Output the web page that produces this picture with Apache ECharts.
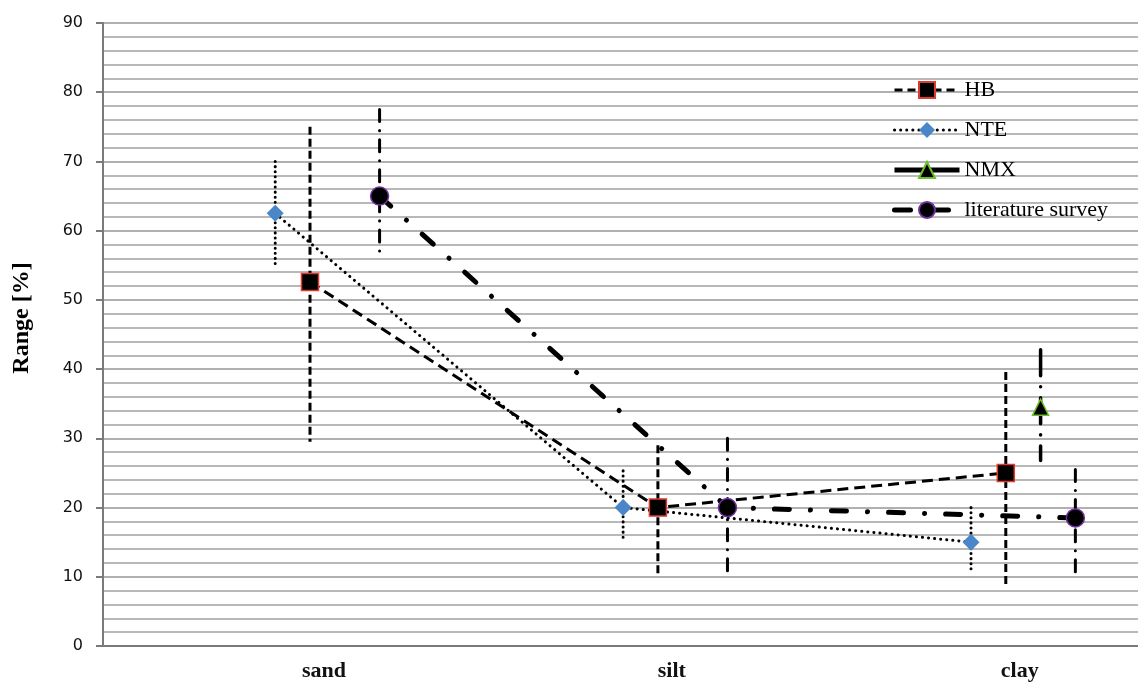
<!DOCTYPE html>
<html>
<head>
<meta charset="utf-8">
<script src="https://cdn.jsdelivr.net/npm/echarts@6/dist/echarts.min.js"></script>
<style>
html,body{margin:0;padding:0;background:#fff;}
#chart{width:1138px;height:686px;}
</style>
</head>
<body>
<div id="chart"></div>
<script>
// ---- data ----
const categories = ['sand', 'silt', 'clay'];
const seriesNames = ['HB', 'NTE', 'NMX', 'literature survey'];
const hbMean  = [52.6, 20, 25];
const hbLow   = [29.5, 10, 8.5];
const hbHigh  = [75, 29, 39.6];
const nteMean = [62.5, 20, 15];
const nteLow  = [55, 15.5, 10.5];
const nteHigh = [70, 25.3, 20];
const nmxMean = [null, null, 34.5];
const nmxLow  = [null, null, 26.8];
const nmxHigh = [null, null, 42.8];
const litMean = [65, 20, 18.5];
const litLow  = [56, 10.7, 9.8];
const litHigh = [77.5, 30, 25.5];
const yMin = 0, yMax = 90, yInterval = 10;

// ---- layout (horizontal offsets of each series within a category) ----
const offHB = 0, offNTE = -0.1, offNMX = 0.1, offLit = 0.2, offLabel = 0.04;

function pts(mean, off) {
  const out = [];
  mean.forEach((v, i) => { if (v !== null) out.push([i + 1 + off, v]); });
  return out;
}
function bars(mean, low, high, off) {
  const out = [];
  mean.forEach((v, i) => { if (v !== null) out.push([i + 1 + off, low[i], high[i]]); });
  return out;
}
function errSeries(name, data, style) {
  return {
    type: 'custom',
    name: name,
    z: 1,
    silent: true,
    data: data,
    encode: { x: 0, y: [1, 2] },
    renderItem: function (params, api) {
      const x = api.value(0);
      const pHigh = api.coord([x, api.value(2)]);
      const pLow = api.coord([x, api.value(1)]);
      return {
        type: 'line',
        shape: { x1: pHigh[0], y1: pHigh[1], x2: pLow[0], y2: pLow[1] },
        style: Object.assign({ stroke: '#000', fill: null }, style)
      };
    }
  };
}

const styleHB  = { color: '#000', width: 3, type: [11, 6] };
const styleNTE = { color: '#000', width: 3, type: [0.1, 6], cap: 'round' };
const styleNMX = { color: '#000', width: 5 };
const styleLit = { color: '#000', width: 5, type: [15, 21, 0.1, 21], cap: 'round' };

const chart = echarts.init(document.getElementById('chart'), null, { renderer: 'canvas' });
const option = {
  backgroundColor: '#fff',
  animation: false,
  grid: { left: 103, top: 23, right: 0, bottom: 40, containLabel: false },
  legend: {
    data: [
      { name: seriesNames[0], lineStyle: { width: 3, type: [8, 5] } },
      { name: seriesNames[1], lineStyle: { width: 3, type: [0.1, 6], cap: 'round' } },
      { name: seriesNames[2], lineStyle: { width: 5 } },
      { name: seriesNames[3], lineStyle: { width: 5, type: [16, 22], cap: 'round' } }
    ],
    orient: 'vertical',
    left: 892,
    top: 79,
    padding: 0,
    itemWidth: 65,
    itemHeight: 20,
    itemGap: 18,
    textStyle: { fontFamily: 'Liberation Serif', fontSize: 22, color: '#000' }
  },
  xAxis: {
    type: 'value',
    min: 0.405,
    max: 3.38,
    splitLine: { show: false },
    axisTick: { show: false },
    axisLine: { show: true, lineStyle: { color: '#7a7a7a', width: 2 } },
    axisLabel: {
      customValues: categories.map((c, i) => i + 1 + offLabel),
      formatter: function (v) { return categories[Math.round(v - offLabel) - 1] || ''; },
      fontFamily: 'Liberation Serif',
      fontSize: 22,
      fontWeight: 'bold',
      color: '#111',
      margin: 14
    }
  },
  yAxis: {
    type: 'value',
    min: yMin,
    max: yMax,
    interval: yInterval,
    axisLine: { show: true, lineStyle: { color: '#7a7a7a', width: 2 } },
    axisTick: { show: true, length: 7, lineStyle: { color: '#7a7a7a', width: 2 } },
    minorTick: { show: false, splitNumber: 5 },
    splitLine: { show: true, lineStyle: { color: '#b0b0b0', width: 2 } },
    minorSplitLine: { show: true, lineStyle: { color: '#b8b8b8', width: 2 } },
    axisLabel: { fontFamily: 'DejaVu Sans', fontSize: 16, color: '#111', margin: 20 }
  },
  graphic: [{
    type: 'text',
    x: 22, y: 318,
    rotation: Math.PI / 2,
    style: {
      text: 'Range [%]',
      font: 'bold 24px "Liberation Serif"',
      fill: '#000',
      align: 'center',
      verticalAlign: 'middle'
    }
  }],
  series: [
    {
      name: seriesNames[0], type: 'line', z: 3,
      data: pts(hbMean, offHB),
      symbol: 'rect', symbolSize: 17,
      itemStyle: { color: '#000', borderColor: '#e03a2e', borderWidth: 1.5 },
      lineStyle: styleHB
    },
    {
      name: seriesNames[1], type: 'line', z: 3,
      data: pts(nteMean, offNTE),
      symbol: 'diamond', symbolSize: 17,
      itemStyle: { color: '#4a86c8', borderWidth: 0 },
      lineStyle: styleNTE
    },
    {
      name: seriesNames[2], type: 'line', z: 3,
      data: pts(nmxMean, offNMX),
      symbol: 'triangle', symbolSize: 16,
      itemStyle: { color: '#000', borderColor: '#6bbf2a', borderWidth: 1.5 },
      lineStyle: styleNMX
    },
    {
      name: seriesNames[3], type: 'line', z: 3,
      data: pts(litMean, offLit),
      symbol: 'circle', symbolSize: 18,
      itemStyle: { color: '#000', borderColor: '#7030a0', borderWidth: 1.5 },
      lineStyle: styleLit
    },
    errSeries('HB err', bars(hbMean, hbLow, hbHigh, offHB), { lineWidth: 3, lineDash: [8, 4] }),
    errSeries('NTE err', bars(nteMean, nteLow, nteHigh, offNTE), { lineWidth: 3, lineDash: [0.1, 5], lineCap: 'round' }),
    errSeries('NMX err', bars(nmxMean, nmxLow, nmxHigh, offNMX), { lineWidth: 3.5, lineDash: [26, 11, 0.1, 11], lineCap: 'round' }),
    errSeries('lit err', bars(litMean, litLow, litHigh, offLit), { lineWidth: 3, lineDash: [12, 9, 0.1, 9], lineCap: 'round' })
  ]
};
chart.setOption(option);
</script>
</body>
</html>
